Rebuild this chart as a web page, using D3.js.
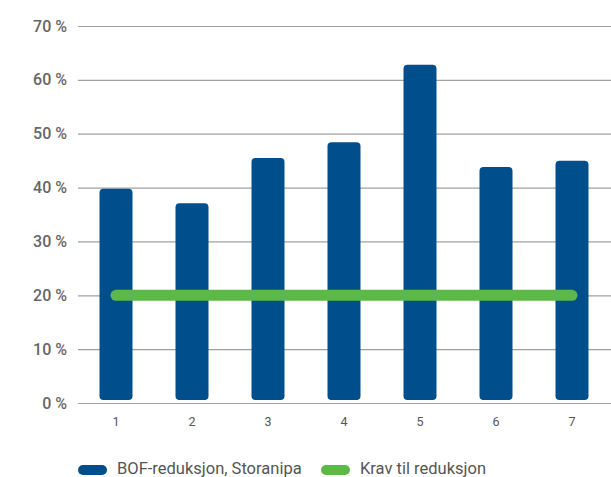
<!DOCTYPE html>
<html><head><meta charset="utf-8">
<script src="https://cdn.jsdelivr.net/npm/d3@7"></script>
<style>body{margin:0;background:#fff;overflow:hidden}svg{display:block}</style>
</head><body>
<svg id="c" width="611" height="477"></svg>
<script>
const categories = ["1","2","3","4","5","6","7"];
const bofValues = [39.8, 37.1, 45.5, 48.4, 62.8, 43.8, 45.0];
const kravValues = [20, 20, 20, 20, 20, 20, 20];
const yTicks = [0,10,20,30,40,50,60,70];
const seriesNames = ["BOF-reduksjon, Storanipa", "Krav til reduksjon"];
const colors = ["#004f8c", "#5cb947"];

const svg = d3.select("#c");
const m = {left:78, right:611, top:26, bottom:403};
const pi = 0.565;
const x = d3.scaleBand().domain(categories).range([78, 610]).paddingInner(pi).paddingOuter(pi/2);
const y = d3.scaleLinear().domain([0,70]).range([m.bottom, m.top]);

// grid + y labels
const yAxis = d3.axisLeft(y).tickValues(yTicks).tickSize(-(611-78)).tickFormat(d => d + " %");
const gy = svg.append("g").attr("transform","translate(78,0)").call(yAxis);
gy.select(".domain").remove();
gy.selectAll(".tick line").attr("stroke","#a0a0a0").attr("stroke-width",1.2);
gy.selectAll(".tick text").attr("x",-11).attr("fill","#666").attr("font-family","Roboto, sans-serif")
  .attr("font-size","16px").attr("font-weight","500");

// x labels
const gx = svg.append("g").attr("transform",`translate(0,${m.bottom})`).call(d3.axisBottom(x).tickSize(0).tickPadding(14));
gx.select(".domain").remove();
gx.selectAll(".tick text").attr("fill","#555").attr("font-family","Roboto, sans-serif").attr("font-size","12.5px");

// bars
const bw = 33;
svg.append("g").selectAll("rect").data(bofValues).join("rect")
  .attr("x",(d,i)=> x(categories[i]) + x.bandwidth()/2 - bw/2)
  .attr("width",bw)
  .attr("y",d=>y(d))
  .attr("height",d=> y(0) - 3 - y(d))
  .attr("rx",4).attr("ry",4)
  .attr("fill",colors[0]);

// line
const line = d3.line().x((d,i)=> x(categories[i]) + x.bandwidth()/2).y(d=>y(d));
svg.append("path").datum(kravValues).attr("d",line).attr("fill","none")
  .attr("stroke",colors[1]).attr("stroke-width",11).attr("stroke-linecap","round");

// legend
const leg = svg.append("g");
const legX = [78, 321];
seriesNames.forEach((n,i)=>{
  leg.append("rect").attr("x",legX[i]).attr("y",465).attr("width",29).attr("height",10).attr("rx",5).attr("fill",colors[i]);
  leg.append("text").attr("x",legX[i]+39).attr("y",473.5).attr("fill","#555")
    .attr("font-family","Roboto, sans-serif").attr("font-size","16.5px").text(n);
});
</script>
</body></html>
